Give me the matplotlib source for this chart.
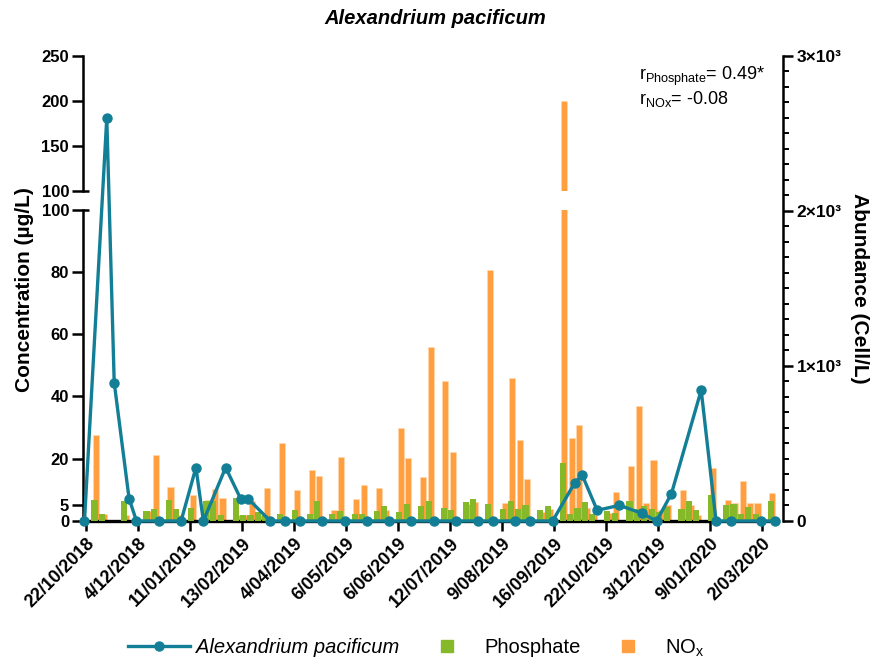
import numpy as np
import matplotlib
matplotlib.use("Agg")
import matplotlib.pyplot as plt
from matplotlib.lines import Line2D
from matplotlib.ticker import FixedLocator, MultipleLocator

plt.rcParams["font.family"] = ["Liberation Sans", "DejaVu Sans"]
plt.rcParams["mathtext.fontset"] = "custom"
plt.rcParams["mathtext.rm"] = "Liberation Sans"
plt.rcParams["mathtext.it"] = "Liberation Sans:italic"
plt.rcParams["mathtext.bf"] = "Liberation Sans:bold"

# ---- data -------------------------------------------------------------
# sampling rows (one row per sampling date)
nutrient_rows = [1, 2, 5, 8, 9, 11, 12, 14, 16, 17, 18, 20, 21, 22, 23, 24,
                 26, 28, 30, 31, 33, 34, 36, 37, 39, 40, 42, 43, 45, 46, 48,
                 49, 51, 52, 54, 56, 57, 58, 59, 61, 62, 64, 65, 66, 67, 68,
                 70, 71, 73, 74, 75, 76, 77, 78, 80, 81, 82, 84, 86, 87, 88,
                 89, 90, 92]
phosphate = [6.9, 2.2, 6.5, 3.2, 3.8, 6.6, 4.0, 4.3, 6.4, 6.4, 2.0, 7.4, 2.0,
             2.0, 3.0, 2.0, 2.2, 3.4, 2.2, 6.4, 2.2, 3.2, 2.2, 2.2, 3.2, 4.9,
             2.9, 5.4, 4.9, 6.5, 4.3, 3.4, 6.1, 7.0, 5.4, 4.0, 6.3, 3.8, 5.0,
             3.4, 4.8, 18.7, 2.2, 4.3, 6.1, 2.4, 3.2, 2.6, 6.3, 4.0, 4.7, 4.0,
             2.9, 4.5, 4.0, 6.4, 3.4, 8.3, 5.0, 5.6, 2.2, 4.5, 2.2, 6.4]
nox = [27.5, 2.2, 2.0, 3.3, 21.1, 10.9, 2.0, 8.3, 6.9, 10.4, 7.4, 2.0, 2.0,
       6.3, 2.0, 10.5, 25.0, 9.9, 16.3, 14.4, 3.4, 20.4, 7.0, 11.5, 10.5, 3.4,
       29.9, 20.2, 14.1, 56.0, 45.0, 22.0, 5.5, 6.1, 80.5, 5.7, 46.0, 26.0,
       13.4, 2.9, 4.0, 200.0, 26.5, 30.7, 4.1, 2.0, 2.5, 9.3, 17.6, 36.8, 5.9,
       19.7, 3.4, 5.0, 9.9, 5.0, 2.0, 17.1, 6.9, 5.8, 12.7, 5.8, 5.8, 9.1]

abundance_rows = [0, 3, 4, 6, 7, 10, 13, 15, 16, 19, 21, 22, 25, 27, 29, 32,
                  35, 38, 41, 44, 47, 50, 53, 55, 58, 60, 63, 66, 67, 69, 72,
                  75, 77, 79, 83, 85, 87, 91, 93]
abundance = [0, 2600, 893, 145, 0, 0, 0, 345, 0, 345, 145, 145, 0, 0, 0, 0,
             0, 0, 0, 0, 0, 0, 0, 0, 0, 0, 0, 248, 295, 69, 101, 50, 0, 177,
             844, 0, 0, 0, 0]

date_labels = ["22/10/2018", "4/12/2018", "11/01/2019", "13/02/2019",
               "4/04/2019", "6/05/2019", "6/06/2019", "12/07/2019",
               "9/08/2019", "16/09/2019", "22/10/2019", "3/12/2019",
               "9/01/2020", "2/03/2020"]
label_step = 7

lower_ticks = [0, 5, 20, 40, 60, 80, 100]
upper_ticks = [100, 150, 200, 250]
right_ticks = [0, 1000, 2000, 3000]
right_labels = ["0", "1×10³", "2×10³", "3×10³"]

# ---- style ------------------------------------------------------------
TEAL = "#137F96"
GREEN = "#86B92A"
ORANGE = "#FF9F40"
W, H = 880, 666


def fx(px):
    return px / W


def fy(py):
    return 1 - py / H


fig = plt.figure(figsize=(W / 100, H / 100), dpi=100)

ax_lo = fig.add_axes([fx(83), fy(521), fx(778) - fx(83), fy(209.5) - fy(521)])
ax_hi = fig.add_axes([fx(83), fy(190.7), fx(778) - fx(83), fy(55.7) - fy(190.7)])
ax_r = fig.add_axes([fx(83), fy(521), fx(782.7) - fx(83), fy(55.9) - fy(521)])

rows_n = np.array(nutrient_rows, dtype=float)
for ax in (ax_lo, ax_hi):
    ax.bar(rows_n + 0.38, nox, width=0.82, color=ORANGE, edgecolor="#FFD9B0",
           linewidth=0.4, zorder=2)
    ax.bar(rows_n + 0.15, phosphate, width=0.82, color=GREEN, linewidth=0,
           zorder=3)
    ax.set_xlim(-0.4, 93.14)
    ax.set_facecolor("none")
    for s in ("top", "right"):
        ax.spines[s].set_visible(False)
    ax.spines["left"].set_linewidth(1.8)
    ax.tick_params(axis="y", which="major", length=8, width=1.8, pad=2)

ax_lo.set_ylim(0, 100)
ax_lo.set_yticks(lower_ticks)
ax_lo.set_yticklabels([str(v) for v in lower_ticks], fontweight="bold",
                      fontsize=12)
ax_lo.spines["bottom"].set_linewidth(2.4)
tick_pos = [label_step * k for k in range(len(date_labels))]
ax_lo.set_xticks(tick_pos)
ax_lo.set_xticklabels(date_labels, rotation=45, ha="right",
                      rotation_mode="anchor", fontweight="bold", fontsize=13)
ax_lo.tick_params(axis="x", length=7, width=1.8, pad=3)

ax_hi.set_ylim(100, 250)
ax_hi.set_yticks(upper_ticks)
ax_hi.set_yticklabels([str(v) for v in upper_ticks], fontweight="bold",
                      fontsize=12)
ax_hi.spines["bottom"].set_visible(False)
ax_hi.set_xticks([])

# short caps on the broken axis ends
for ax in (ax_lo, ax_hi):
    ax.plot([0, 0.009], [100, 100], transform=ax.get_yaxis_transform(),
            color="black", lw=1.8, clip_on=False, solid_capstyle="butt")

fig.text(fx(25), fy(290), "Concentration (µg/L)", rotation=90, ha="center",
         va="center", fontsize=15, fontweight="bold")

# abundance on the right-hand axis, spanning the full height
ax_r.set_facecolor("none")
for s in ("top", "left", "bottom"):
    ax_r.spines[s].set_visible(False)
ax_r.spines["right"].set_linewidth(1.8)
ax_r.set_xlim(-0.4, 93.77)
ax_r.set_ylim(0, 3000)
ax_r.set_xticks([])
ax_r.yaxis.tick_right()
ax_r.yaxis.set_label_position("right")
ax_r.yaxis.set_major_locator(FixedLocator(right_ticks))
ax_r.yaxis.set_minor_locator(MultipleLocator(100))
ax_r.set_yticklabels(right_labels, fontweight="bold", fontsize=12.5)
ax_r.tick_params(axis="y", which="major", length=7, width=1.8, pad=3)
ax_r.tick_params(axis="y", which="minor", length=4, width=1.4)
ax_r.set_ylabel("Abundance (Cell/L)", fontsize=15, fontweight="bold",
                rotation=270, labelpad=20)

ax_r.plot(np.array(abundance_rows) - 0.2, abundance, color=TEAL, lw=2.4,
          marker="o", ms=6.5, clip_on=False, zorder=5)

fig.text(fx(435), fy(18), "Alexandrium pacificum", ha="center", va="center",
         fontsize=14.5, fontweight="bold", fontstyle="italic")

fig.text(fx(639), fy(80), r"r$_{\mathrm{Phosphate}}$= 0.49*", fontsize=13,
         va="baseline")
fig.text(fx(639), fy(104), r"r$_{\mathrm{NOx}}$= -0.08", fontsize=13,
         va="baseline")

handles = [
    Line2D([], [], color=TEAL, lw=2.4, marker="o", ms=6.5),
    Line2D([], [], ls="none", marker="s", ms=9, color=GREEN),
    Line2D([], [], ls="none", marker="s", ms=9, color=ORANGE),
]
leg = fig.legend(handles, ["Alexandrium pacificum", "Phosphate",
                           r"NO$_{\mathrm{x}}$"],
                 loc="center", bbox_to_anchor=(fx(416), fy(648)), ncol=3,
                 frameon=False, fontsize=14.5, handlelength=3.1,
                 handletextpad=0.3, columnspacing=0.8)
leg.get_texts()[0].set_fontstyle("italic")

fig.savefig("out.png", dpi=100)
